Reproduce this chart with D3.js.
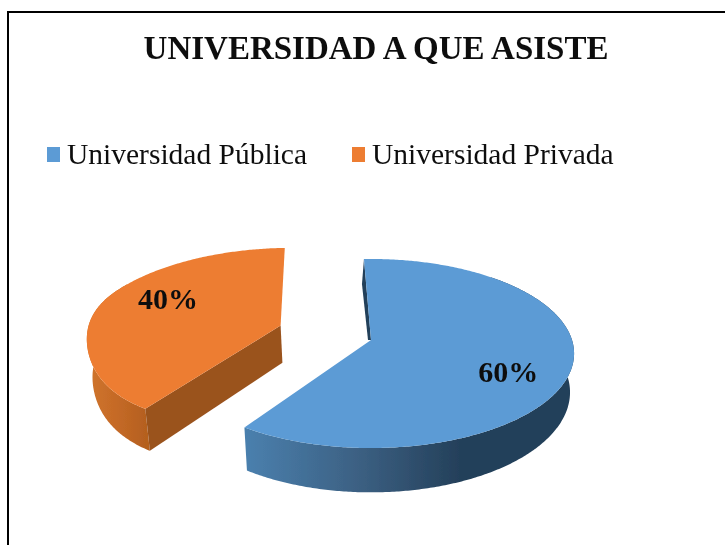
<!DOCTYPE html>
<html>
<head>
<meta charset="utf-8">
<script src="https://cdn.jsdelivr.net/npm/d3@7"></script>
<style>
  html, body { margin: 0; padding: 0; background: #fff; }
  svg { display: block; }
  text { font-family: "Liberation Serif", serif; fill: #111; }
</style>
</head>
<body>
<svg id="chart" width="725" height="545"></svg>
<script>
// data
const categories = ["Universidad Pública", "Universidad Privada"];
const percents = [60, 40];
const chartTitle = "UNIVERSIDAD A QUE ASISTE";

const topColors = ["#5b9bd5", "#ed7d31"];
const sideColor = "#9a521f";
const sliverColor = "#24405a";
// how far each slice is pulled out, in pie radii
const explodeU = [0, -0.46];
const explodeV = [0, -0.16];
// which part of the slice has a visible outer wall
const wallFrom = [0.2, 0];
const wallTo = [1, 0.6];
// the small slice is a bit flatter on its lower left side
const rimDent = [0, 0.035];
// gradient stops of the round outer wall
const wallStops = [
  ["#4a80ae", "#3d6285", "#24405a"],
  ["#d0752d", "#c56a27", "#b5601f"]
];

const svg = d3.select("#chart");
const width = +svg.attr("width");
const height = +svg.attr("height");

// the source is a soft screenshot, so blur everything a little
const defs = svg.append("defs");
defs.append("filter")
  .attr("id", "soft")
  .append("feGaussianBlur")
  .attr("stdDeviation", 0.45);

// flat border of the picture, runs off on the right and bottom
svg.append("path")
  .attr("d", `M${width + 2},12H8V${height + 2}`)
  .attr("fill", "none")
  .attr("stroke", "#000")
  .attr("stroke-width", 2);

// title
svg.append("text")
  .attr("x", 376)
  .attr("y", 59)
  .attr("text-anchor", "middle")
  .attr("font-weight", "bold")
  .attr("font-size", 33)
  .attr("filter", "url(#soft)")
  .text(chartTitle);

// legend
const legendX = d3.scaleOrdinal().domain(categories).range([47, 352]);
const legend = svg.append("g")
  .attr("filter", "url(#soft)")
  .selectAll("g")
  .data(categories)
  .enter()
  .append("g")
  .attr("transform", d => `translate(${legendX(d)},0)`);

legend.append("rect")
  .attr("y", 147)
  .attr("width", 13)
  .attr("height", 15)
  .attr("fill", (d, i) => topColors[i]);

legend.append("text")
  .attr("x", 20)
  .attr("y", 164)
  .attr("font-size", 29.5)
  .text(d => d);

// pie in the plane, then a small perspective projection onto the screen
const cx = 371, cy = 340, rx = 201, ry = 92.6, persp = 1 / 7, depth = 38;

function project(u, v, down) {
  const s = 1 / (1 - persp * v);
  const shrink = down ? 0.98 : 1;
  return [
    cx + rx * u * s * shrink,
    cy + ry * v * s + (down ? depth * s : 0)
  ];
}

const arcs = d3.pie().sort(null).startAngle(-0.04).endAngle(2 * Math.PI - 0.04)(percents);
const line = d3.line();
const pies = svg.append("g").attr("id", "pie").attr("filter", "url(#soft)");

arcs.forEach(function (d, i) {
  const span = d.endAngle - d.startAngle;
  const radius = function (a) {
    const t = (a - d.startAngle) / span;
    const bump = Math.sin(Math.PI * Math.min(t / 0.56, 1));
    return 1 - rimDent[i] * bump * bump;
  };
  const point = function (a, down) {
    const r = radius(a);
    return project(explodeU[i] + Math.sin(a) * r, explodeV[i] - Math.cos(a) * r, down);
  };

  const angles = d3.range(d.startAngle, d.endAngle, 0.01).concat([d.endAngle]);
  const rim = angles.map(a => point(a, false));
  const apex = project(explodeU[i], explodeV[i], false);
  const apexDown = project(explodeU[i], explodeV[i], true);
  const first = rim[0];
  const last = rim[rim.length - 1];

  const wallAngles = angles.filter(function (a) {
    const t = (a - d.startAngle) / span;
    return t >= wallFrom[i] && t <= wallTo[i];
  });
  const wallTop = wallAngles.map(a => point(a, false));
  const wallDown = wallAngles.map(a => point(a, true));

  // outer wall, only the part going round the front shows
  const gradId = "wall" + i;
  const left = i === 0 ? last[0] : d3.min(rim, p => p[0]);
  const right = i === 0 ? 460 : first[0];
  const grad = defs.append("linearGradient")
    .attr("id", gradId)
    .attr("gradientUnits", "userSpaceOnUse")
    .attr("x1", left)
    .attr("x2", right)
    .attr("y1", 0)
    .attr("y2", 0);
  wallStops[i].forEach(function (c, j) {
    grad.append("stop").attr("offset", j / 2).attr("stop-color", c);
  });

  pies.append("path")
    .attr("d", line(wallTop.concat(wallDown.slice().reverse())) + "Z")
    .attr("fill", `url(#${gradId})`);

  if (i === 0) {
    // thin dark sliver behind the start edge of the big slice
    pies.append("path")
      .attr("d", line([first, apex, [apex[0] - 3, apex[1]], [first[0] - 2, first[1] + 25]]) + "Z")
      .attr("fill", sliverColor);
  } else {
    // cut face of the pulled out slice
    pies.append("path")
      .attr("d", line([apex, first, point(d.startAngle, true), apexDown]) + "Z")
      .attr("fill", sideColor);
  }

  // top face
  pies.append("path")
    .attr("d", line([apex].concat(rim)) + "Z")
    .attr("fill", topColors[i]);
});

// percent labels
const labelRadius = [0.69, 0.62];
const labelDy = [24, -2];
arcs.forEach(function (d, i) {
  const mid = (d.startAngle + d.endAngle) / 2;
  const p = project(
    explodeU[i] + Math.sin(mid) * labelRadius[i],
    explodeV[i] - Math.cos(mid) * labelRadius[i],
    false
  );
  svg.append("text")
    .attr("x", p[0])
    .attr("y", p[1] + labelDy[i])
    .attr("text-anchor", "middle")
    .attr("font-weight", "bold")
    .attr("font-size", 30)
    .attr("filter", "url(#soft)")
    .text(percents[i] + "%");
});
</script>
</body>
</html>
